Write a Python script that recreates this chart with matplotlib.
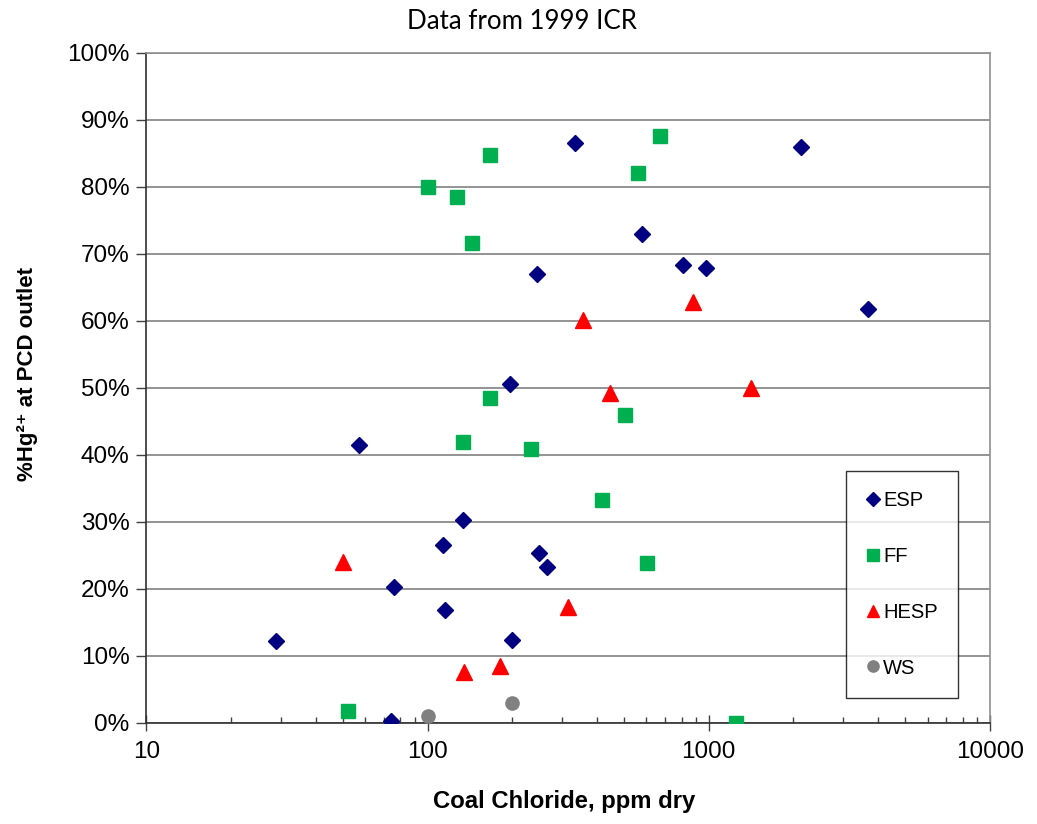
import matplotlib
matplotlib.use('Agg')
import matplotlib.pyplot as plt
from matplotlib.ticker import FixedLocator, FixedFormatter, NullFormatter, PercentFormatter

plt.rcParams['font.family'] = ['Liberation Sans', 'DejaVu Sans']

# chloride (ppm dry) vs %Hg2+ at PCD outlet
esp_x = [29.0, 57.1, 76.2, 74.3, 113.8, 115.1, 133.4, 200, 197, 335, 2133, 580, 244, 809, 974, 3686, 250, 266]
esp_y = [12.2, 41.5, 20.2, 0.3, 26.6, 16.9, 30.2, 12.4, 50.6, 86.5, 86.0, 73.0, 67.0, 68.3, 67.9, 61.8, 25.3, 23.2]

ff_x = [100, 127, 144, 167, 167, 133.4, 52.2, 670, 560, 504, 234, 417, 605, 1252]
ff_y = [80.0, 78.5, 71.6, 84.8, 48.4, 41.9, 1.8, 87.5, 82.0, 46.0, 40.9, 33.3, 23.8, 0.0]

hesp_x = [50.2, 135, 181, 356, 880, 444, 1417, 315]
hesp_y = [24.0, 7.5, 8.4, 60.1, 62.8, 49.2, 50.0, 17.2]

ws_x = [100, 200]
ws_y = [1.0, 2.9]

x_ticks = [10, 100, 1000, 10000]
x_tick_labels = ['10', '100', '1000', '10000']
y_ticks = [0, 10, 20, 30, 40, 50, 60, 70, 80, 90, 100]

fig = plt.figure(figsize=(10.37, 8.24), dpi=100)
ax = fig.add_axes([0.1411, 0.1229, 0.8136, 0.8131])

ax.plot(esp_x, esp_y, 'D', color='#000080', markersize=8.5, label='ESP', zorder=3)
ax.plot(ff_x, ff_y, 's', color='#00B050', markersize=10, label='FF', zorder=3)
ax.plot(hesp_x, hesp_y, '^', color='#FF0000', markersize=11, label='HESP', zorder=3)
ax.plot(ws_x, ws_y, 'o', color='#808080', markersize=9.5, label='WS', zorder=3)

ax.set_xscale('log')
ax.set_xlim(10, 10000)
ax.set_ylim(0, 100)
ax.xaxis.set_major_locator(FixedLocator(x_ticks))
ax.xaxis.set_major_formatter(FixedFormatter(x_tick_labels))
ax.xaxis.set_minor_formatter(NullFormatter())
ax.set_yticks(y_ticks)
ax.yaxis.set_major_formatter(PercentFormatter(100, decimals=0))

ax.grid(True, axis='y', color='#808080', linewidth=1.2)
ax.set_axisbelow(True)
ax.tick_params(axis='both', which='major', labelsize=17.5, length=7, width=1, color='#404040')
ax.tick_params(axis='x', which='major', direction='inout', length=12, pad=7)
ax.tick_params(axis='x', which='minor', direction='in', length=4, width=1, color='#404040')
ax.tick_params(axis='y', which='major', pad=5)

for side in ['left', 'bottom']:
    ax.spines[side].set_color('#303030')
    ax.spines[side].set_linewidth(1.2)
for side in ['top', 'right']:
    ax.spines[side].set_color('#909090')
    ax.spines[side].set_linewidth(1.2)

leg = ax.legend(loc='upper left', bbox_to_anchor=(0.8293, 0.376), fontsize=14.5,
                frameon=True, fancybox=False, edgecolor='black', borderpad=1.0,
                labelspacing=1.83, handlelength=0.7, handletextpad=0.15,
                borderaxespad=0, markerscale=0.85)
leg.get_frame().set_linewidth(1.0)

fig.text(0.5034, 0.9745, 'Data from 1999 ICR', ha='center', va='center',
         fontsize=18.6, family=['Lato', 'DejaVu Sans'])
fig.text(0.544, 0.027, 'Coal Chloride, ppm dry', ha='center', va='center',
         fontsize=17.2, fontweight='bold')
fig.text(0.027, 0.546, '%Hg²⁺ at PCD outlet', ha='center', va='center',
         rotation=90, fontsize=16, fontweight='bold')

fig.savefig('out.png', dpi=100)
